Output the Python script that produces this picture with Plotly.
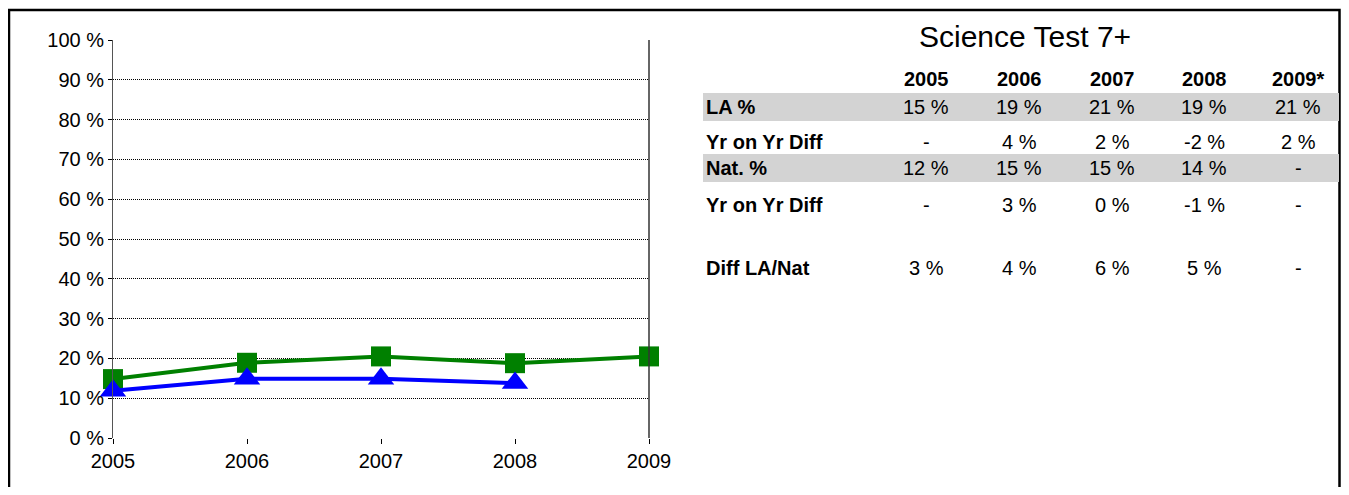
import plotly.graph_objects as go

# page is 1349x495; the body has an 8px margin, so the figure is drawn inside it
PAGE_W, PAGE_H = 1349, 495
OFF = 8
W, H = PAGE_W - 2 * OFF, PAGE_H - 2 * OFF

# chart data
years = [2005, 2006, 2007, 2008, 2009]
la_values = [14.8, 18.9, 20.5, 18.8, 20.5]
nat_values = [11.9, 14.9, 14.9, 13.8, None]

# table data
tbl_title = "Science Test 7+"
tbl_years = ["2005", "2006", "2007", "2008", "2009*"]
row_labels = ["LA %", "Yr on Yr Diff", "Nat. %", "Yr on Yr Diff", "", "Diff LA/Nat"]
row_values = [
    ["15 %", "19 %", "21 %", "19 %", "21 %"],
    ["-", "4 %", "2 %", "-2 %", "2 %"],
    ["12 %", "15 %", "15 %", "14 %", "-"],
    ["-", "3 %", "0 %", "-1 %", "-"],
    ["", "", "", "", ""],
    ["3 %", "4 %", "6 %", "5 %", "-"],
]
shaded_rows = [0, 2]

FONT = "Liberation Sans, Arial, sans-serif"


def px(x):
    # page pixel -> paper fraction
    return (x - OFF) / W


def py(y):
    return 1 - (y - OFF) / H


fig = go.Figure()

fig.add_trace(
    go.Scatter(
        x=years,
        y=la_values,
        mode="lines+markers",
        line=dict(color="#008000", width=4),
        marker=dict(symbol="square", size=20, color="#008000"),
        cliponaxis=False,
        name="LA %",
    )
)
fig.add_trace(
    go.Scatter(
        x=years,
        y=nat_values,
        mode="lines+markers",
        line=dict(color="#0000FF", width=4),
        marker=dict(symbol="triangle-up", size=23, color="#0000FF"),
        cliponaxis=False,
        name="Nat. %",
    )
)

# table: column centres and row positions in pixels
col_x = [926, 1019, 1112, 1204, 1298]
row_y = [107, 142, 168, 205, 236, 268]
band_h = 28

shapes = [
    # outer frame
    dict(type="rect", xref="paper", yref="paper",
         x0=px(9), x1=px(1339.5), y0=py(530), y1=py(10),
         line=dict(color="black", width=2.5), layer="below"),
    # right side of plot area
    dict(type="line", xref="paper", yref="paper",
         x0=px(649), x1=px(649), y0=py(438), y1=py(40),
         line=dict(color="#333333", width=1.5)),
]
for r in shaded_rows:
    shapes.append(
        dict(type="rect", xref="paper", yref="paper",
             x0=px(703), x1=px(1339), y0=py(row_y[r] + band_h / 2),
             y1=py(row_y[r] - band_h / 2),
             fillcolor="#D3D3D3", line=dict(width=0), layer="below")
    )

annotations = [
    dict(text=tbl_title, x=px(1025), y=py(37), xref="paper", yref="paper",
         showarrow=False, font=dict(size=30, color="black", family=FONT),
         xanchor="center", yanchor="middle")
]
for yr, cx in zip(tbl_years, col_x):
    annotations.append(
        dict(text=f"<b>{yr}</b>", x=px(cx), y=py(79), xref="paper", yref="paper",
             showarrow=False, font=dict(size=20, color="black", family=FONT),
             xanchor="center", yanchor="middle")
    )
for lab, vals, ry in zip(row_labels, row_values, row_y):
    if lab:
        annotations.append(
            dict(text=f"<b>{lab}</b>", x=px(704), y=py(ry), xref="paper", yref="paper",
                 showarrow=False, font=dict(size=20, color="black", family=FONT),
                 xanchor="left", yanchor="middle")
        )
    for v, cx in zip(vals, col_x):
        if v:
            annotations.append(
                dict(text=v, x=px(cx), y=py(ry), xref="paper", yref="paper",
                     showarrow=False, font=dict(size=20, color="black", family=FONT),
                     xanchor="center", yanchor="middle")
            )

fig.update_layout(
    width=W,
    height=H,
    margin=dict(l=0, r=0, t=0, b=0),
    paper_bgcolor="white",
    plot_bgcolor="white",
    showlegend=False,
    font=dict(family=FONT, size=20, color="black"),
    xaxis=dict(
        domain=[px(113), px(649)],
        range=[2005, 2009],
        tickvals=years,
        ticktext=[str(y) for y in years],
        showgrid=False,
        zeroline=False,
        showline=False,
        ticks="outside",
        ticklen=5,
        tickcolor="black",
        tickfont=dict(size=20),
        automargin=False,
    ),
    yaxis=dict(
        domain=[py(438), py(40)],
        range=[0, 100],
        tickvals=list(range(0, 101, 10)),
        ticktext=[f"{v} %" for v in range(0, 101, 10)],
        showgrid=True,
        gridcolor="black",
        griddash="1px,1px",
        gridwidth=1,
        zeroline=False,
        showline=True,
        linecolor="#555555",
        linewidth=1,
        ticks="outside",
        ticklen=4,
        tickcolor="black",
        tickfont=dict(size=20),
        automargin=False,
    ),
    shapes=shapes,
    annotations=annotations,
)

fig.write_html("out.html")
